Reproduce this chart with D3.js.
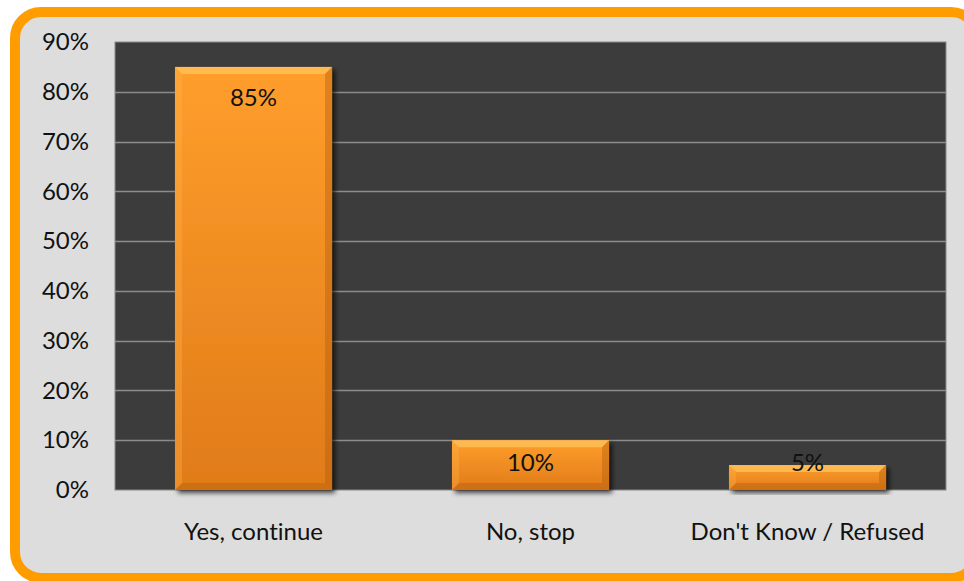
<!DOCTYPE html>
<html>
<head>
<meta charset="utf-8">
<script src="https://cdn.jsdelivr.net/npm/d3@7"></script>
<style>
  html, body { margin: 0; padding: 0; background: #fff; }
  svg { display: block; }
  text { font-family: Lato, "Open Sans", sans-serif; fill: #111; font-variant-ligatures: none; }
</style>
</head>
<body>
<div id="chart"></div>
<script>
// survey answers, share of respondents
const categories = ["Yes, continue", "No, stop", "Don't Know / Refused"];
const values = [0.85, 0.10, 0.05];
const yTicks = [0, 0.1, 0.2, 0.3, 0.4, 0.5, 0.6, 0.7, 0.8, 0.9];

const W = 964, H = 581;
const plot = { left: 115, right: 946, top: 42, bottom: 490 };
const font = "Lato, 'Open Sans', sans-serif";

const svg = d3.select("#chart").append("svg").attr("width", W).attr("height", H);
const defs = svg.append("defs");

// bar body: lighter on top, darker at the base
const body = defs.append("linearGradient").attr("id", "barBody")
  .attr("x1", 0).attr("y1", 0).attr("x2", 0).attr("y2", 1);
body.append("stop").attr("offset", "0%").attr("stop-color", "#ff9e2c");
body.append("stop").attr("offset", "100%").attr("stop-color", "#e07b19");

const shadow = defs.append("filter").attr("id", "shadow")
  .attr("x", "-10%").attr("y", "-10%").attr("width", "130%").attr("height", "130%");
shadow.append("feGaussianBlur").attr("in", "SourceAlpha").attr("stdDeviation", 2.5);
shadow.append("feOffset").attr("dx", 3).attr("dy", 3).attr("result", "b");
shadow.append("feComponentTransfer").append("feFuncA").attr("type", "linear").attr("slope", 0.7);
const merge = shadow.append("feMerge");
merge.append("feMergeNode");
merge.append("feMergeNode").attr("in", "SourceGraphic");

// frame: orange rounded border on light gray
svg.append("rect")
  .attr("x", 15).attr("y", 12).attr("width", 962).attr("height", 566)
  .attr("rx", 26).attr("ry", 26)
  .attr("fill", "#dcdddc").attr("stroke", "#ff9c00").attr("stroke-width", 10);

const x = d3.scaleBand().domain(categories)
  .range([plot.left, plot.right]).paddingInner(0.433).paddingOuter(0.2165);
const y = d3.scaleLinear().domain([0, 0.9]).range([plot.bottom, plot.top]);

svg.append("rect")
  .attr("x", plot.left).attr("y", plot.top)
  .attr("width", plot.right - plot.left).attr("height", plot.bottom - plot.top)
  .attr("fill", "#3c3c3c").attr("stroke", "#8a8a8a").attr("stroke-width", 1);

// gridlines
svg.append("g").selectAll("line").data(yTicks.filter(d => d > 0 && d < 0.9)).join("line")
  .attr("x1", plot.left).attr("x2", plot.right)
  .attr("y1", d => Math.round(y(d)) + 0.5).attr("y2", d => Math.round(y(d)) + 0.5)
  .attr("stroke", "#8c8c8c").attr("stroke-width", 1.5);

// y axis
const yAxis = svg.append("g").attr("transform", `translate(${plot.left},0)`)
  .call(d3.axisLeft(y).tickValues(yTicks).tickFormat(d3.format(".0%")).tickSize(0).tickPadding(26));
yAxis.select(".domain").remove();
yAxis.selectAll("text").attr("font-size", 24).attr("font-family", font).attr("fill", "#111");

// x axis labels
const xAxis = svg.append("g").attr("transform", `translate(0,${plot.bottom})`)
  .call(d3.axisBottom(x).tickSize(0).tickPadding(33));
xAxis.select(".domain").remove();
xAxis.selectAll("text").attr("font-size", 24).attr("font-family", font).attr("fill", "#111");

// bars with a bevelled edge
const bars = svg.append("g").selectAll("g").data(values.map((v, i) => ({ v, c: categories[i] }))).join("g");
bars.each(function (d) {
  const g = d3.select(this);
  const x0 = x(d.c), w = x.bandwidth(), y0 = y(d.v), h = y(0) - y(d.v);
  const b = Math.min(7, h / 2);
  g.append("rect").attr("x", x0).attr("y", y0).attr("width", w).attr("height", h)
    .attr("fill", "url(#barBody)").attr("filter", "url(#shadow)");
  // top bevel
  g.append("path").attr("d", `M${x0},${y0}L${x0 + w},${y0}L${x0 + w - b},${y0 + b}L${x0 + b},${y0 + b}Z`)
    .attr("fill", "#ffcf6a").attr("opacity", 0.6);
  // bottom bevel
  g.append("path").attr("d", `M${x0},${y0 + h}L${x0 + w},${y0 + h}L${x0 + w - b},${y0 + h - b}L${x0 + b},${y0 + h - b}Z`)
    .attr("fill", "#b85f10").attr("opacity", 0.45);
  // side bevels
  g.append("path").attr("d", `M${x0},${y0}L${x0 + b},${y0 + b}L${x0 + b},${y0 + h - b}L${x0},${y0 + h}Z`)
    .attr("fill", "#ffb24a").attr("opacity", 0.35);
  g.append("path").attr("d", `M${x0 + w},${y0}L${x0 + w - b},${y0 + b}L${x0 + w - b},${y0 + h - b}L${x0 + w},${y0 + h}Z`)
    .attr("fill", "#b05a0c").attr("opacity", 0.4);
});

// value labels, inside end (clamped for short bars)
bars.append("text")
  .attr("x", d => x(d.c) + x.bandwidth() / 2)
  .attr("y", d => Math.min(y(d.v) + 31, y(0) - 27))
  .attr("dy", "0.35em")
  .attr("text-anchor", "middle")
  .attr("font-size", 24)
  .attr("font-family", font)
  .text(d => d3.format(".0%")(d.v));
</script>
</body>
</html>
